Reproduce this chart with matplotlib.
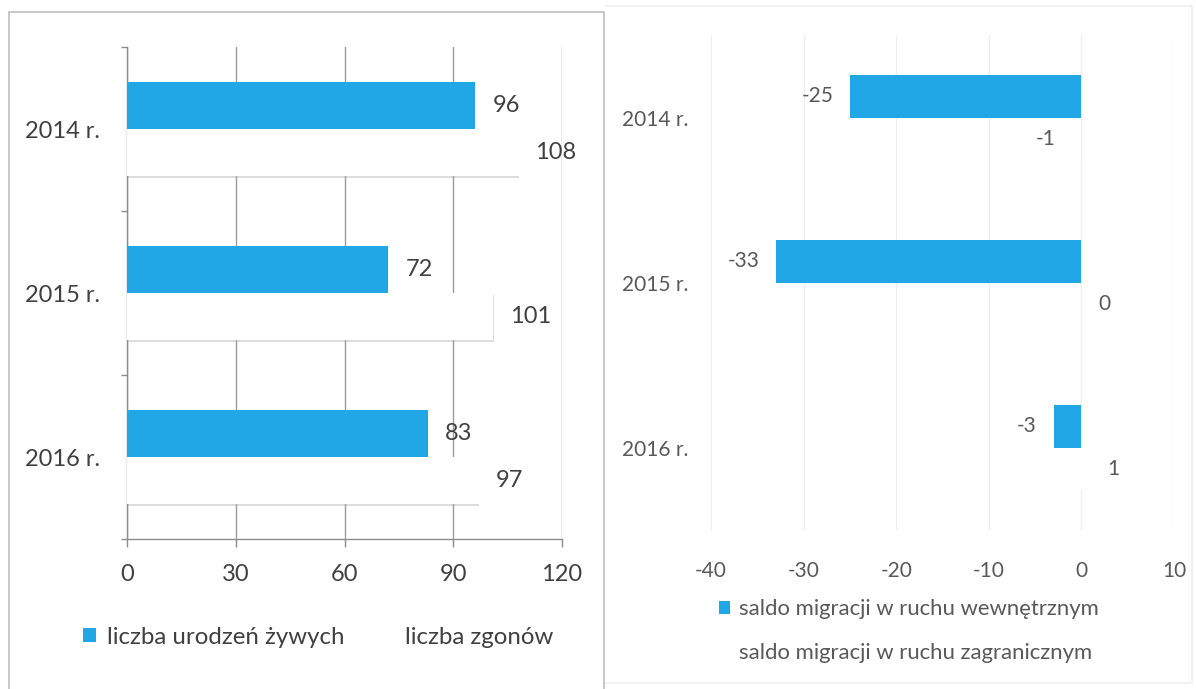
import matplotlib
matplotlib.use("Agg")
import numpy as np
import matplotlib.pyplot as plt
import matplotlib.patheffects as pe

plt.rcParams['font.family'] = ['Lato', 'DejaVu Sans']
plt.rcParams['axes.unicode_minus'] = False

# dane
years = ['2014 r.', '2015 r.', '2016 r.']
births = [96, 72, 83]
deaths = [108, 101, 97]
births_label = 'liczba urodzeń żywych'
deaths_label = 'liczba zgonów'

mig_internal = [-25, -33, -3]
mig_foreign = [-1, 0, 1]
internal_label = 'saldo migracji w ruchu wewnętrznym'
foreign_label = 'saldo migracji w ruchu zagranicznym'

left_ticks = [0, 30, 60, 90, 120]
right_ticks = [-40, -30, -20, -10, 0, 10]

blue = '#22A7E6'
dark = '#404040'
grey = '#595959'

W, H = 1196, 689
fig = plt.figure(figsize=(W / 100, H / 100), dpi=100)
fig.patch.set_facecolor('white')

def fx(px):
    return px / W

def fy(py):
    return 1 - py / H

# ramki wykresow
fig.add_artist(plt.Line2D([fx(9), fx(9), fx(604), fx(604)], [0, fy(12), fy(12), 0],
                          color='#BDBDBD', lw=1.2))
fig.add_artist(plt.Line2D([fx(606), fx(1192), fx(1192), fx(606)], [fy(6), fy(6), fy(683), fy(683)],
                          color='#EFEFEF', lw=1.2))

# ---------- lewy wykres ----------
ax1 = fig.add_axes([fx(127), fy(539), fx(562) - fx(127), fy(47) - fy(539)])
y = np.arange(len(years))
h = 0.287
ax1.barh(y - h / 2, births, height=h, color=blue, zorder=3, label=births_label)
wb = ax1.barh(y + h / 2, deaths, height=h, color='white', zorder=3, label=deaths_label)
for i in range(len(years)):
    ax1.annotate(str(births[i]), (births[i], y[i] - h / 2), xytext=(12.5, 0), textcoords='offset points',
                 va='center', ha='left', fontsize=17, color=dark)
    ax1.annotate(str(deaths[i]), (deaths[i], y[i] + h / 2), xytext=(12, 0), textcoords='offset points',
                 va='center', ha='left', fontsize=17, color=dark)

ax1.set_xlim(0, 120)
ax1.set_ylim(len(years) - 0.5, -0.5)
ax1.set_xticks(left_ticks)
ax1.set_yticks(y)
ax1.set_yticklabels(years)
ax1.set_yticks([-0.5, 0.5, 1.5, 2.5], minor=True)
ax1.tick_params(axis='y', which='major', length=0, pad=19.5, labelsize=17, labelcolor=dark)
ax1.tick_params(axis='y', which='minor', length=4, color='#8C8C8C', width=1)
ax1.tick_params(axis='x', which='major', length=6, direction='out', color='#8C8C8C', width=1,
                pad=12, labelsize=17, labelcolor=dark)
ax1.grid(axis='x', color='#9C9C9C', lw=1, zorder=0)
ax1.set_axisbelow(True)
for s in ['top', 'right']:
    ax1.spines[s].set_visible(False)
for s in ['left', 'bottom']:
    ax1.spines[s].set_color('#8C8C8C')
    ax1.spines[s].set_linewidth(1)
ax1.set_facecolor('none')

fig.legend(handles=ax1.get_legend_handles_labels()[0], labels=[births_label, deaths_label],
           loc='center', bbox_to_anchor=(fx(318), fy(637)), ncol=2, frameon=False,
           fontsize=17.3, labelcolor=dark, handlelength=0.55, handleheight=0.55,
           handletextpad=0.45, columnspacing=1.5, borderpad=0, borderaxespad=0)

# delikatny cien pod bialymi slupkami (po legendzie, zeby nie trafil do znacznika)
for b in wb:
    b.set_path_effects([pe.SimplePatchShadow(offset=(0.6, -1.6), shadow_rgbFace='#A8A8A8', alpha=0.4),
                        pe.Normal()])

# ---------- prawy wykres ----------
ax2 = fig.add_axes([fx(711), fy(530), fx(1174) - fx(711), fy(35) - fy(530)])
h2 = 0.26
ax2.barh(y - h2 / 2, mig_internal, height=h2, color=blue, zorder=3, label=internal_label)
ax2.barh(y + h2 / 2, mig_foreign, height=h2, color='white', zorder=3, label=foreign_label)
for i in range(len(years)):
    v = mig_internal[i]
    ax2.annotate(str(v), (v, y[i] - h2 / 2), xytext=(-12 if v < 0 else 12, 0), textcoords='offset points',
                 va='center', ha='right' if v < 0 else 'left', fontsize=15, color=grey)
    v = mig_foreign[i]
    ax2.annotate(str(v), (v, y[i] + h2 / 2), xytext=(-12 if v < 0 else 12, 0), textcoords='offset points',
                 va='center', ha='right' if v < 0 else 'left', fontsize=15, color=grey)

ax2.set_xlim(-40, 10)
ax2.set_ylim(len(years) - 0.5, -0.5)
ax2.set_xticks(right_ticks)
ax2.set_yticks(y)
ax2.set_yticklabels(years)
ax2.tick_params(axis='y', length=0, pad=16, labelsize=15, labelcolor=grey)
ax2.tick_params(axis='x', length=0, pad=22, labelsize=15, labelcolor=grey)
ax2.grid(axis='x', color='#EDEDED', lw=1, zorder=0)
ax2.set_axisbelow(True)
for s in ax2.spines.values():
    s.set_visible(False)
ax2.set_facecolor('none')

fig.legend(handles=ax2.get_legend_handles_labels()[0], labels=[internal_label, foreign_label],
           loc='center left', bbox_to_anchor=(fx(719), fy(631)), ncol=1, frameon=False,
           fontsize=15.9, labelcolor=grey, handlelength=0.52, handleheight=0.52,
           handletextpad=0.4, labelspacing=1.08, borderpad=0, borderaxespad=0)

fig.savefig('out.png', dpi=100, facecolor='white')
